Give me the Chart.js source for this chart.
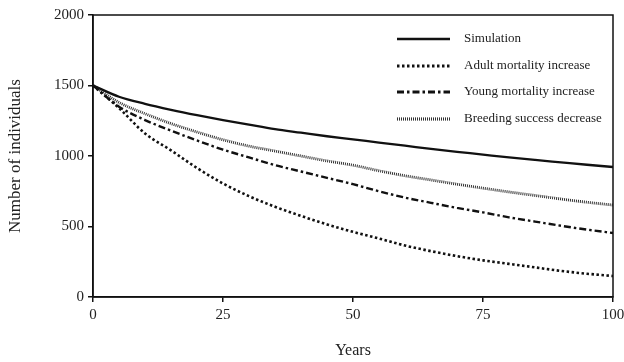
<!DOCTYPE html>
<html>
<head>
<meta charset="utf-8">
<script src="https://cdn.jsdelivr.net/npm/chart.js@4/dist/chart.umd.min.js"></script>
<style>
  html, body { margin: 0; padding: 0; background: #fff; }
  #wrap { width: 624px; height: 362px; }
</style>
</head>
<body>
<div id="wrap"><canvas id="popChart" width="624" height="362"></canvas></div>
<script>
// years sampled every 5
const years = [0, 5, 10, 15, 20, 25, 30, 35, 40, 45, 50, 55, 60, 65, 70, 75, 80, 85, 90, 95, 100];

const simulation = [1500, 1420, 1370, 1328, 1290, 1255, 1222, 1190, 1165, 1140, 1118, 1095, 1073, 1050, 1030, 1010, 990, 972, 955, 938, 922];
const adultMortality = [1500, 1340, 1160, 1040, 915, 805, 715, 640, 575, 515, 462, 415, 365, 325, 290, 260, 235, 210, 185, 165, 149];
const youngMortality = [1500, 1350, 1255, 1180, 1110, 1045, 990, 935, 890, 845, 800, 750, 705, 668, 632, 600, 565, 535, 505, 478, 454];
const breedingSuccess = [1500, 1380, 1300, 1230, 1170, 1115, 1070, 1035, 1000, 965, 935, 895, 860, 830, 800, 772, 745, 720, 695, 672, 652];

const yTicks = [0, 500, 1000, 1500, 2000];
const xTicks = [0, 25, 50, 75, 100];

const serif = '"Liberation Serif", "DejaVu Serif", serif';

const toPoints = vals => vals.map((v, i) => ({ x: years[i], y: v }));

// frame round the plot area
const framePlugin = {
  id: 'frame',
  afterDraw(chart) {
    const { ctx, chartArea: a } = chart;
    ctx.save();
    ctx.strokeStyle = '#111';
    ctx.lineWidth = 1.5;
    ctx.strokeRect(a.left, a.top, a.right - a.left, a.bottom - a.top);
    ctx.restore();
  }
};

// legend drawn inside the plot, top right
const insideLegend = {
  id: 'insideLegend',
  afterDraw(chart) {
    const ctx = chart.ctx;
    const rowsY = [39, 66, 92, 119];
    ctx.save();
    chart.data.datasets.forEach((ds, i) => {
      const y = rowsY[i];
      ctx.beginPath();
      ctx.setLineDash(ds.borderDash || []);
      ctx.lineWidth = ds.borderWidth + 0.4;
      ctx.strokeStyle = ds.borderColor;
      ctx.moveTo(397, y);
      ctx.lineTo(450, y);
      ctx.stroke();
      ctx.setLineDash([]);
      ctx.fillStyle = '#222';
      ctx.font = '13px ' + serif;
      ctx.textBaseline = 'middle';
      ctx.fillText(ds.label, 464, y);
    });
    ctx.restore();
  }
};

const ctx = document.getElementById('popChart').getContext('2d');
new Chart(ctx, {
  type: 'line',
  data: {
    datasets: [
      { label: 'Simulation', data: toPoints(simulation), borderColor: '#111', borderWidth: 2.3, borderDash: [] },
      { label: 'Adult mortality increase', data: toPoints(adultMortality), borderColor: '#111', borderWidth: 2.6, borderDash: [2.5, 2.5] },
      { label: 'Young mortality increase', data: toPoints(youngMortality), borderColor: '#111', borderWidth: 2.4, borderDash: [7, 3, 2.5, 3] },
      { label: 'Breeding success decrease', data: toPoints(breedingSuccess), borderColor: '#333', borderWidth: 2.8, borderDash: [1, 1] }
    ]
  },
  options: {
    responsive: false,
    animation: false,
    devicePixelRatio: 1,
    layout: { padding: { top: 15, right: 11, left: 0, bottom: 0 } },
    elements: {
      point: { radius: 0 },
      line: { cubicInterpolationMode: 'monotone', fill: false }
    },
    plugins: {
      legend: { display: false },
      tooltip: { enabled: false }
    },
    scales: {
      x: {
        type: 'linear',
        min: 0,
        max: 100,
        afterBuildTicks: s => { s.ticks = xTicks.map(v => ({ value: v })); },
        afterFit: s => { s.height = 65; s.paddingRight = 0; s.paddingLeft = 0; },
        grid: { display: true, drawOnChartArea: false, drawTicks: true, tickLength: 5, color: '#111', lineWidth: 1.5 },
        border: { display: true, color: '#111', width: 1.5 },
        ticks: { color: '#222', font: { family: serif, size: 15 }, padding: 4, maxRotation: 0, callback: v => String(v) },
        title: { display: true, text: 'Years', color: '#222', font: { family: serif, size: 16 }, padding: { top: 0, bottom: 2 } }
      },
      y: {
        min: 0,
        max: 2000,
        afterBuildTicks: s => { s.ticks = yTicks.map(v => ({ value: v })); },
        afterFit: s => { s.width = 93; },
        grid: { display: true, drawOnChartArea: false, drawTicks: true, tickLength: 5, color: '#111', lineWidth: 1.5 },
        border: { display: true, color: '#111', width: 1.5 },
        ticks: { color: '#222', font: { family: serif, size: 15 }, padding: 4, callback: v => String(v) },
        title: { display: true, text: 'Number of individuals', color: '#222', font: { family: serif, size: 17 }, padding: { top: 5, bottom: 0 } }
      }
    }
  },
  plugins: [framePlugin, insideLegend]
});
</script>
</body>
</html>
